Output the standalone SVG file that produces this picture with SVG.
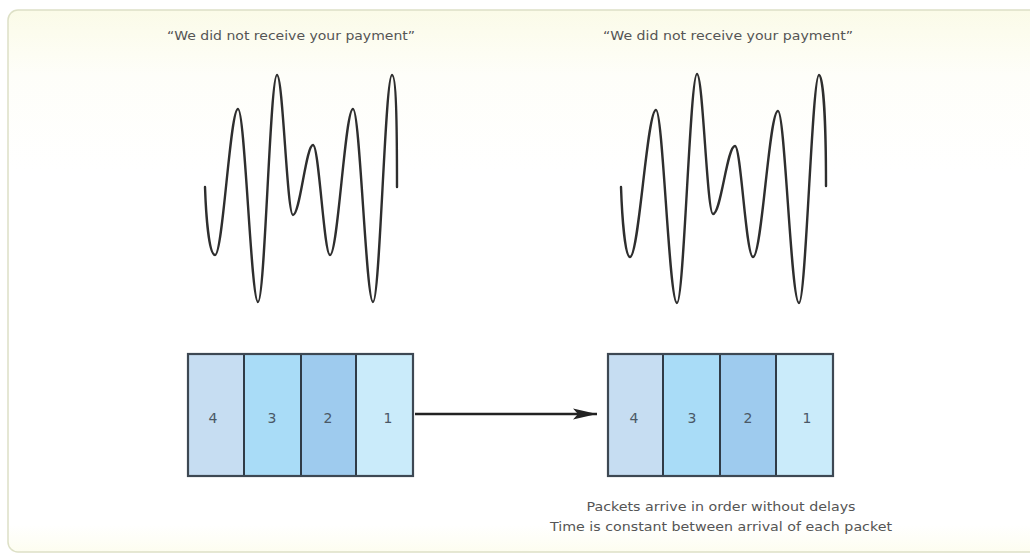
<svg xmlns="http://www.w3.org/2000/svg" width="1030" height="556" viewBox="0 0 1030 556">
<defs>
<linearGradient id="bg" x1="0" y1="0" x2="0" y2="1">
<stop offset="0" stop-color="#fbfbe8"/>
<stop offset="0.12" stop-color="#fefef9"/>
<stop offset="0.3" stop-color="#ffffff"/>
<stop offset="0.95" stop-color="#ffffff"/>
<stop offset="1" stop-color="#fdfdf0"/>
</linearGradient>
<marker id="ah" viewBox="0 0 24 12" refX="24" refY="6" markerWidth="24" markerHeight="12" markerUnits="userSpaceOnUse" orient="auto">
<path d="M0,0.5 L24,6 L0,11.5 L5,6 Z" fill="#222"/>
</marker>
<style>
.cap{font-family:"DejaVu Sans",sans-serif;font-size:12px;fill:#555;text-anchor:middle}
.num{font-family:"DejaVu Sans",sans-serif;font-size:14px;fill:#4a5866;text-anchor:middle}
.note{font-family:"DejaVu Sans",sans-serif;font-size:12.5px;fill:#555;text-anchor:middle}
.wave{fill:none;stroke:#2e2e2e;stroke-width:2.4;stroke-linecap:round;stroke-linejoin:round}
.c4{fill:#c6ddf2}
.c3{fill:#a9dcf7}
.c2{fill:#9ecbee}
.c1{fill:#caebfa}
.frame{fill:none;stroke:#3d4853;stroke-width:2.2}
.div{stroke:#2f3b47;stroke-width:2}
</style>
</defs>
<rect x="0" y="0" width="1030" height="556" fill="#ffffff"/>
<rect x="8" y="10" width="1040" height="542" rx="10" fill="url(#bg)" stroke="#dde0c6" stroke-width="1.5"/>

<g id="caption-left"><text class="cap" x="291" y="40" textLength="248" lengthAdjust="spacingAndGlyphs">“We did not receive your payment”</text></g>
<g id="caption-right"><text class="cap" x="728" y="40" textLength="250" lengthAdjust="spacingAndGlyphs">“We did not receive your payment”</text></g>

<g id="wave-left">
<path class="wave" d="M205,187 C206,215 209,255 215,255 C223,255 230,109 238,109 C245,109 251,302 258,302 C265,302 270,75 277,75 C283,75 287,215 293,215 C300,215 306,145 313,145 C319,145 324,255 330,255 C338,255 345,109 353,109 C360,109 366,302 373,302 C380,302 385,75 392,75 C396,75 397,120 397,187"/>
</g>
<g id="wave-right">
<path class="wave" d="M621,187 C622,215 625,257 630,257 C639,257 647,110 656,110 C663,110 669,303 677,303 C684,303 690,74 697,74 C703,74 707,214 713,214 C721,214 727,146 735,146 C741,146 746,257 753,257 C762,257 769,111 778,111 C785,111 791,303 799,303 C806,303 812,75 819,75 C823,75 826,120 826,186"/>
</g>

<g id="packets-left">
<rect class="c4" x="188" y="354" width="56" height="122"/>
<rect class="c3" x="244" y="354" width="57" height="122"/>
<rect class="c2" x="301" y="354" width="55" height="122"/>
<rect class="c1" x="356" y="354" width="57" height="122"/>
<line class="div" x1="244" y1="354" x2="244" y2="476"/>
<line class="div" x1="301" y1="354" x2="301" y2="476"/>
<line class="div" x1="356" y1="354" x2="356" y2="476"/>
<rect class="frame" x="188" y="354" width="225" height="122"/>
<text class="num" x="213" y="423">4</text>
<text class="num" x="272" y="423">3</text>
<text class="num" x="328" y="423">2</text>
<text class="num" x="388" y="423">1</text>
</g>

<g id="packets-right">
<rect class="c4" x="608" y="354" width="55" height="122"/>
<rect class="c3" x="663" y="354" width="57" height="122"/>
<rect class="c2" x="720" y="354" width="56" height="122"/>
<rect class="c1" x="776" y="354" width="57" height="122"/>
<line class="div" x1="663" y1="354" x2="663" y2="476"/>
<line class="div" x1="720" y1="354" x2="720" y2="476"/>
<line class="div" x1="776" y1="354" x2="776" y2="476"/>
<rect class="frame" x="608" y="354" width="225" height="122"/>
<text class="num" x="634" y="423">4</text>
<text class="num" x="692" y="423">3</text>
<text class="num" x="748" y="423">2</text>
<text class="num" x="807" y="423">1</text>
</g>

<g id="connectors">
<line x1="415" y1="414" x2="597" y2="414" stroke="#222" stroke-width="2.5" marker-end="url(#ah)"/>
</g>

<g id="note">
<text class="note" x="721" y="511" textLength="269" lengthAdjust="spacingAndGlyphs">Packets arrive in order without delays</text>
<text class="note" x="721" y="531" textLength="342" lengthAdjust="spacingAndGlyphs">Time is constant between arrival of each packet</text>
</g>
</svg>
